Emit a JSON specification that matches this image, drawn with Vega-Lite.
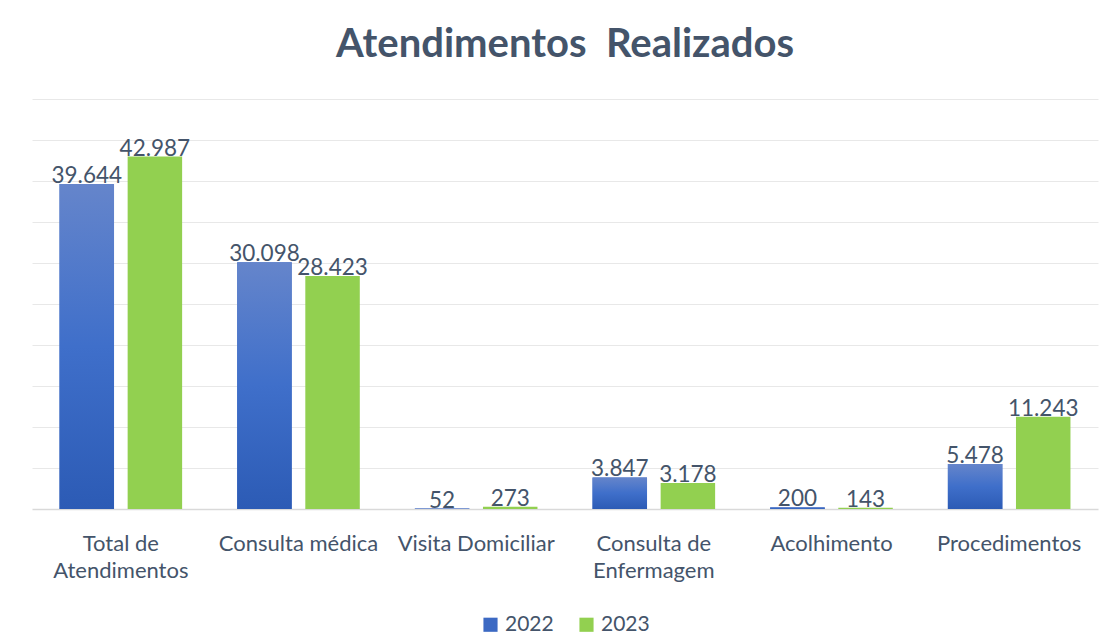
{
  "$schema": "https://vega.github.io/schema/vega-lite/v6.json",
  "width": 1066,
  "height": 410,
  "padding": {"left": 32, "right": 6, "top": 25, "bottom": 6},
  "background": "white",
  "config": {
    "view": {"stroke": null},
    "font": "Lato",
    "legend": {"layout": {"bottom": {"anchor": "middle"}}},
    "locale": {"number": {"decimal": ",", "thousands": ".", "grouping": [3], "currency": ["R$", ""]}}
  },
  "title": {
    "text": "Atendimentos \u00a0Realizados",
    "fontSize": 40,
    "fontWeight": "bold",
    "color": "#44546A",
    "anchor": "middle",
    "offset": 34
  },
  "data": {
    "values": [
      {"categoria": "Total de Atendimentos", "ano": "2022", "valor": 39644},
      {"categoria": "Total de Atendimentos", "ano": "2023", "valor": 42987},
      {"categoria": "Consulta médica", "ano": "2022", "valor": 30098},
      {"categoria": "Consulta médica", "ano": "2023", "valor": 28423},
      {"categoria": "Visita Domiciliar", "ano": "2022", "valor": 52},
      {"categoria": "Visita Domiciliar", "ano": "2023", "valor": 273},
      {"categoria": "Consulta de Enfermagem", "ano": "2022", "valor": 3847},
      {"categoria": "Consulta de Enfermagem", "ano": "2023", "valor": 3178},
      {"categoria": "Acolhimento", "ano": "2022", "valor": 200},
      {"categoria": "Acolhimento", "ano": "2023", "valor": 143},
      {"categoria": "Procedimentos", "ano": "2022", "valor": 5478},
      {"categoria": "Procedimentos", "ano": "2023", "valor": 11243}
    ]
  },
  "encoding": {
    "x": {
      "field": "categoria",
      "type": "nominal",
      "sort": null,
      "scale": {"paddingInner": 0.31, "paddingOuter": 0.155},
      "axis": {
        "title": null,
        "labelAngle": 0,
        "labelFontSize": 22,
        "labelColor": "#44546A",
        "labelPadding": 24,
        "labelLineHeight": 27,
        "labelExpr": "datum.label == 'Total de Atendimentos' ? ['Total de', 'Atendimentos'] : datum.label == 'Consulta de Enfermagem' ? ['Consulta de', 'Enfermagem'] : datum.label",
        "ticks": false,
        "domainColor": "#D9D9D9",
        "domainWidth": 1.5,
        "grid": false
      }
    },
    "xOffset": {
      "field": "ano",
      "type": "nominal",
      "scale": {"domain": ["2022", "2023"], "paddingInner": 0.2}
    },
    "y": {
      "field": "valor",
      "type": "quantitative",
      "scale": {"domain": [0, 50000], "nice": false},
      "axis": {
        "title": null,
        "labels": false,
        "ticks": false,
        "domain": false,
        "grid": true,
        "gridColor": "#E8E8E8",
        "gridWidth": 1,
        "values": [5000, 10000, 15000, 20000, 25000, 30000, 35000, 40000, 45000, 50000]
      }
    }
  },
  "layer": [
    {
      "mark": {"type": "bar"},
      "encoding": {
        "color": {
          "field": "ano",
          "type": "nominal",
          "scale": {"domain": ["2022", "2023"], "range": ["#3C69C3", "#92D050"]},
          "legend": {
            "title": null,
            "orient": "bottom",
            "direction": "horizontal",
            "symbolType": "square",
            "symbolSize": 200,
            "symbolStrokeWidth": 0,
            "labelFontSize": 21,
            "labelColor": "#44546A",
            "columnPadding": 22,
            "labelOffset": 4,
            "offset": 33
          }
        }
      }
    },
    {
      "transform": [{"filter": "datum.ano == '2022'"}],
      "mark": {
        "type": "bar",
        "color": {
          "gradient": "linear",
          "x1": 0, "y1": 0, "x2": 0, "y2": 1,
          "stops": [
            {"offset": 0, "color": "#6585CB"},
            {"offset": 0.5, "color": "#3F6FCA"},
            {"offset": 1, "color": "#2C5BB5"}
          ]
        }
      }
    },
    {
      "mark": {"type": "text", "baseline": "alphabetic", "dy": -1, "fontSize": 22.5, "color": "#44546A"},
      "encoding": {
        "text": {"field": "valor", "type": "quantitative", "format": ",d"}
      }
    }
  ]
}
